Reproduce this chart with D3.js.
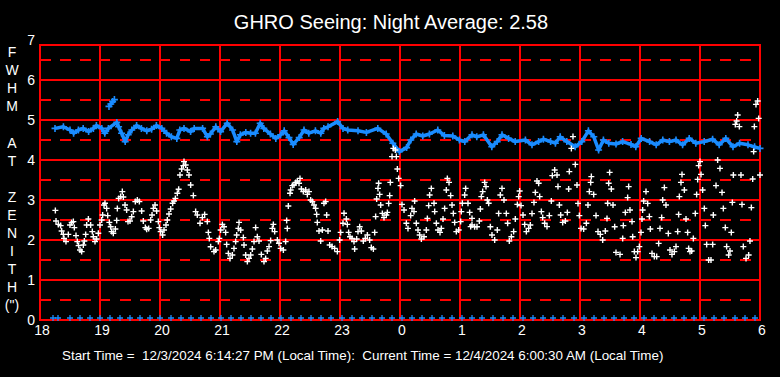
<html>
<head>
<script src="https://d3js.org/d3.v7.min.js"></script>
<style>
  body { margin: 0; background: black; }
  text { font-family: "Liberation Sans", Arial, sans-serif; fill: white; }
</style>
</head>
<body>
<svg id="seeing" width="780" height="377"></svg>
<script>
// hours after 18:00 local time
const hourLabels = ["18", "19", "20", "21", "22", "23", "0", "1", "2", "3", "4", "5", "6"];
const yLabels = ["0", "1", "2", "3", "4", "5", "6", "7"];
const halfLines = [0.5, 1.5, 2.5, 3.5, 4.5, 5.5, 6.5];
const axisLetters = ["F", "W", "H", "M", "", "A", "T", "", "Z", "E", "N", "I", "T", "H", "(\")"];
const title = "GHRO Seeing: Night Average: 2.58";
const footer = "Start Time =  12/3/2024 6:14:27 PM (Local Time):  Current Time = 12/4/2024 6:00:30 AM (Local Time)";

// blue series [hour, fwhm]
const blueSeeing = [
  [0.25,4.79],[0.39,4.83],[0.50,4.75],[0.56,4.67],[0.64,4.75],[0.72,4.79],[0.81,4.71],[0.89,4.79],
  [0.94,4.86],[1.03,4.79],[1.08,4.67],[1.14,4.79],[1.28,4.94],[1.31,4.83],[1.36,4.67],[1.42,4.46],
  [1.47,4.63],[1.53,4.75],[1.61,4.86],[1.69,4.79],[1.78,4.73],[1.86,4.77],[1.94,4.86],[2.03,4.79],
  [2.11,4.67],[2.19,4.58],[2.28,4.54],[2.33,4.75],[2.40,4.79],[2.51,4.71],[2.57,4.79],[2.71,4.79],
  [2.79,4.58],[2.84,4.65],[2.93,4.83],[3.01,4.71],[3.12,4.92],[3.21,4.75],[3.28,4.46],[3.34,4.63],
  [3.43,4.69],[3.51,4.67],[3.59,4.67],[3.67,4.92],[3.73,4.79],[3.84,4.65],[3.93,4.54],[4.01,4.63],
  [4.07,4.73],[4.15,4.56],[4.22,4.39],[4.32,4.56],[4.40,4.75],[4.48,4.67],[4.59,4.73],[4.68,4.67],
  [4.73,4.79],[4.80,4.83],[4.96,4.96],[5.05,4.79],[5.13,4.75],[5.30,4.73],[5.44,4.69],[5.63,4.79],
  [5.77,4.65],[5.88,4.42],[5.99,4.21],[6.11,4.31],[6.18,4.50],[6.27,4.65],[6.38,4.60],[6.49,4.65],
  [6.63,4.75],[6.74,4.61],[6.88,4.60],[6.99,4.50],[7.08,4.46],[7.20,4.63],[7.28,4.58],[7.39,4.63],
  [7.53,4.33],[7.62,4.46],[7.70,4.63],[7.81,4.54],[7.92,4.46],[8.09,4.50],[8.20,4.38],[8.31,4.46],
  [8.39,4.52],[8.51,4.46],[8.59,4.42],[8.67,4.58],[8.78,4.46],[8.92,4.33],[9.03,4.46],[9.14,4.73],
  [9.23,4.58],[9.31,4.25],[9.39,4.50],[9.48,4.42],[9.60,4.40],[9.71,4.46],[9.85,4.39],[9.93,4.33],
  [10.02,4.54],[10.16,4.46],[10.27,4.38],[10.38,4.50],[10.49,4.46],[10.60,4.50],[10.71,4.38],[10.82,4.54],
  [10.93,4.42],[11.07,4.46],[11.21,4.52],[11.32,4.38],[11.43,4.54],[11.55,4.33],[11.66,4.42],[11.80,4.38],
  [11.91,4.33],[12.00,4.29]
];
const blueSpike = [[1.15,5.34],[1.18,5.40],[1.21,5.46],[1.24,5.51]];

// white series [hour, fwhm]
const whiteSeeing = [
  [0.256,2.74],[0.267,2.475],[0.306,2.39],[0.344,2.36],[0.361,2.225],[0.389,2.14],[0.40,2.04],[0.433,1.96],
  [0.472,2.14],[0.50,2.375],[0.528,2.44],[0.556,2.46],[0.572,2.31],[0.60,2.11],[0.622,1.96],[0.644,1.86],
  [0.667,1.75],[0.694,1.71],[0.722,1.875],[0.739,1.975],[0.761,2.14],[0.778,2.375],[0.806,2.525],[0.844,2.375],
  [0.872,2.21],[0.889,2.08],[0.917,1.96],[0.944,2.025],[0.972,2.17],[1.0,2.375],[1.028,2.5],[1.044,2.625],
  [1.067,2.875],[1.083,2.92],[1.111,2.79],[1.128,2.61],[1.156,2.44],[1.178,2.33],[1.194,2.21],[1.222,2.17],
  [1.256,2.275],[1.278,2.49],[1.289,2.79],[1.311,3.04],[1.344,3.085],[1.372,3.21],[1.389,3.075],[1.417,2.875],
  [1.444,2.75],[1.467,2.46],[1.5,2.475],[1.528,2.58],[1.556,2.71],[1.589,2.96],[1.622,3.0],[1.656,2.96],
  [1.694,2.725],[1.722,2.475],[1.756,2.31],[1.778,2.27],[1.811,2.29],[1.844,2.5],[1.867,2.625],[1.889,2.79],
  [1.917,2.875],[1.944,2.725],[1.972,2.46],[1.989,2.31],[2.011,2.21],[2.044,2.125],[2.067,2.25],[2.1,2.375],
  [2.122,2.5],[2.15,2.65],[2.178,2.775],[2.211,2.92],[2.233,2.975],[2.256,3.04],[2.289,3.17],[2.311,3.27],
  [2.333,3.625],[2.361,3.775],[2.389,3.86],
  [2.4,3.96],[2.428,3.875],[2.456,3.75],[2.483,3.625],[2.511,3.375],[2.556,3.11],[2.594,2.71],[2.622,2.625],
  [2.667,2.42],[2.706,2.56],[2.744,2.64],[2.789,2.46],[2.806,2.19],[2.822,2.04],[2.844,1.83],[2.9,1.71],
  [2.928,1.75],[2.972,1.96],[2.989,2.04],[3.011,2.25],[3.039,2.39],[3.067,2.33],[3.094,2.19],[3.111,1.89],
  [3.139,1.665],[3.167,1.54],[3.206,1.625],[3.233,1.79],[3.261,1.96],[3.278,2.125],[3.306,2.29],[3.317,2.44],
  [3.344,2.25],[3.389,2.06],[3.4,1.875],[3.428,1.625],[3.456,1.46],[3.483,1.54],[3.511,1.625],[3.539,1.775],
  [3.567,1.96],[3.594,2.31],[3.622,2.08],[3.65,1.975],[3.689,1.64],[3.733,1.46],[3.761,1.54],[3.789,1.725],
  [3.817,1.835],[3.844,1.985],[3.872,2.29],[3.889,2.39],[3.911,2.21],[3.956,2.0],[3.983,1.92],[4.011,1.79],
  [4.056,1.75],[4.094,1.96],[4.122,2.29],[4.111,2.49],[4.139,2.85],[4.167,3.17],[4.178,3.25],[4.206,3.36],
  [4.233,3.375],[4.261,3.44],[4.289,3.475],[4.317,3.42],[4.333,3.54],[4.356,3.275],[4.389,3.21],[4.428,3.25],
  [4.456,3.14],[4.483,3.21],[4.511,3.0],[4.539,2.96],[4.567,2.875],[4.594,2.79],[4.611,2.64],[4.622,2.44],
  [4.65,2.225],[4.678,1.975],[4.706,2.25],[4.733,2.92],[4.761,2.96],[4.778,2.625],[4.8,2.225],
  [4.828,1.875],[4.867,1.835],[4.911,1.79],[4.956,1.71],[4.994,2.0],[5.011,2.19],[5.05,2.42],[5.067,2.67],
  [5.106,2.525],[5.122,2.39],[5.144,2.19],[5.167,2.08],[5.2,2.04],[5.233,1.96],[5.244,1.775],[5.278,2.025],
  [5.3,2.21],[5.328,2.33],[5.356,2.225],[5.389,1.975],[5.422,2.04],[5.456,2.125],[5.494,2.0],[5.522,1.81],
  [5.556,1.775],[5.578,2.19],[5.594,2.585],[5.611,3.025],[5.633,3.29],[5.644,3.42],[5.661,3.14],[5.678,2.875],
  [5.706,2.665],[5.733,2.56],[5.772,2.625],[5.789,2.69],[5.811,2.915],[5.828,3.11],[5.839,3.44],[5.867,4.085],
  [5.889,4.29],[5.922,4.25],[5.939,4.085],[5.956,3.775],[5.978,3.54],[6.011,3.36],[6.033,2.89],[6.067,2.75],
  [6.106,2.42],[6.133,2.29],[6.178,2.61],[6.2,2.79],[6.233,2.71],[6.244,2.975],[6.272,2.42],[6.3,2.25],
  [6.328,2.125],[6.356,2.025],[6.4,2.08],[6.439,2.25],[6.456,2.54],[6.478,2.86],[6.494,3.125],[6.522,3.29],
  [6.567,2.92],[6.578,2.71],[6.606,2.42],[6.633,2.25],[6.667,2.19],[6.689,2.29],[6.717,2.525],[6.744,2.79],
  [6.772,3.25],[6.789,3.54],[6.817,3.44],[6.844,3.11],[6.867,2.875],[6.889,2.665],[6.911,2.44],[6.939,2.21],
  [6.978,2.25],[7.011,2.46],[7.022,2.71],[7.039,2.92],[7.078,3.125],[7.094,3.29],[7.133,2.92],[7.161,2.69],
  [7.178,2.335],[7.2,2.54],
  [7.2,2.375],[7.244,2.33],[7.283,2.33],[7.322,2.475],[7.339,2.775],[7.356,3.085],[7.378,3.21],[7.411,3.44],
  [7.433,3.335],[7.456,3.0],[7.478,2.92],[7.506,2.33],[7.533,2.125],[7.578,2.0],[7.622,2.25],[7.644,2.665],
  [7.672,3.125],[7.7,3.29],[7.733,3.0],[7.772,2.665],[7.794,2.42],[7.822,1.975],[7.856,2.08],[7.894,2.21],
  [7.922,2.525],[7.956,2.89],[7.978,3.085],[7.994,3.225],[8.017,2.86],[8.05,2.625],[8.078,2.39],[8.106,2.21],
  [8.144,2.29],[8.172,2.375],[8.2,2.66],[8.233,2.94],[8.256,3.19],[8.283,3.475],[8.311,3.42],[8.328,3.085],
  [8.356,2.71],[8.378,2.56],[8.411,2.42],[8.45,2.335],[8.489,2.61],[8.522,2.975],[8.539,3.61],[8.578,3.75],
  [8.617,3.625],[8.633,3.335],[8.656,2.875],[8.678,2.625],[8.711,2.44],[8.756,2.475],[8.789,2.69],[8.811,3.275],
  [8.822,3.71],[8.856,4.29],[8.883,4.585],[8.922,3.89],[8.95,3.375],[8.967,2.915],[8.989,2.61],[9.017,2.29],
  [9.061,2.275],[9.106,2.42],[9.133,2.875],[9.156,3.21],[9.178,3.44],[9.189,3.585],[9.228,3.14],[9.267,2.61],
  [9.3,2.21],[9.339,2.14],[9.378,2.0],[9.422,2.225],[9.45,2.54],[9.461,2.92],[9.478,3.42],[9.494,3.69],
  [9.522,3.275],[9.55,2.875],[9.578,2.33],
  [9.6,1.69],[9.667,1.64],[9.711,2.04],[9.722,2.36],[9.756,2.69],[9.794,3.06],[9.811,3.335],[9.833,2.75],
  [9.867,2.46],[9.878,2.08],[9.906,1.71],[9.933,1.56],[9.961,1.71],[9.989,1.835],[10.017,2.19],[10.033,2.525],
  [10.044,2.75],[10.061,2.975],[10.1,3.21],[10.128,2.915],[10.156,2.585],[10.172,2.275],[10.2,1.665],[10.239,1.585],
  [10.278,1.585],[10.311,1.915],[10.333,2.29],[10.361,2.56],[10.378,3.0],[10.406,3.31],[10.433,2.875],[10.472,2.165],
  [10.5,1.75],[10.533,1.64],[10.572,1.71],[10.6,1.835],[10.628,2.21],[10.644,2.64],[10.656,3.085],[10.683,3.44],
  [10.7,3.64],[10.739,3.25],[10.767,2.525],[10.794,2.19],[10.811,1.79],[10.833,1.71],[10.861,1.725],[10.889,2.04],
  [10.922,2.665],[10.944,3.14],[10.961,3.515],[10.978,3.86],[11.0,3.96],[11.017,3.64],[11.044,3.25],[11.072,2.79],
  [11.089,2.36],[11.111,1.89],[11.144,1.5],[11.183,1.5],[11.211,1.89],[11.222,2.625],[11.267,3.36],[11.294,4.0],
  [11.333,3.79],[11.367,3.19],[11.389,2.79],[11.422,2.31],[11.444,1.835],[11.478,1.625],[11.5,1.725],[11.522,2.19],
  [11.539,2.94],[11.556,3.625],[11.589,4.89],[11.611,4.975],[11.628,5.125],[11.656,4.835],[11.683,3.625],[11.7,2.89],
  [11.722,1.835],[11.767,1.54],[11.811,1.625],[11.833,1.975],[11.856,2.81],[11.878,3.525],[11.894,4.21],[11.906,4.835],
  [11.933,5.39],[11.961,5.475],[11.978,5.04],[12.0,3.625]
];

// zero markers, minutes after 18:00
const zeroMinutes = [
  13, 18, 30, 40, 50, 60, 70, 80, 90, 100, 110, 120,
  131, 141, 151, 161, 171, 181, 191, 201, 211, 221, 231, 241, 251, 261, 271, 281, 291,
  302, 312, 322, 332, 342, 352, 362, 372, 382, 392, 402, 412, 422, 432, 442,
  453, 463, 473, 483, 493, 503, 513, 523,
  534, 544, 554, 564, 574, 584, 594, 604, 614, 624, 634, 644, 654, 664, 674, 684, 695, 705, 715
];
const zeroValue = 0.05;

const svg = d3.select("#seeing");
const x = d3.scaleLinear().domain([0, 12]).range([40, 760]);
const y = d3.scaleLinear().domain([0, 7]).range([320, 40]);
const plotTop = y(7) + 5;
const blue = "#1a8cff";
const red = "#ff0000";

svg.append("rect").attr("width", 780).attr("height", 377).attr("fill", "black");

// grid
const grid = svg.append("g").attr("stroke", red).attr("fill", "none")
  .attr("shape-rendering", "crispEdges");
grid.selectAll(".half").data(halfLines).join("line")
  .attr("x1", x(0)).attr("x2", x(12))
  .attr("y1", d => y(d)).attr("y2", d => y(d))
  .attr("stroke-width", 1.5).attr("stroke-dasharray", "10.5,9.5");
grid.selectAll(".full").data(d3.range(1, 7)).join("line")
  .attr("x1", x(0)).attr("x2", x(12))
  .attr("y1", d => y(d)).attr("y2", d => y(d))
  .attr("stroke-width", 1.5);
grid.selectAll(".vert").data(d3.range(1, 12)).join("line")
  .attr("x1", d => x(d)).attr("x2", d => x(d))
  .attr("y1", plotTop).attr("y2", y(0))
  .attr("stroke-width", 1.5);
grid.append("rect")
  .attr("x", x(0)).attr("y", plotTop)
  .attr("width", x(12) - x(0)).attr("height", y(0) - plotTop)
  .attr("stroke-width", 1.5);

const plus = r => `M${-r},0H${r}M0,${-r}V${r}`;

// blue series
const line = d3.line().x(d => x(d[0])).y(d => y(d[1]));
svg.append("path").datum(blueSeeing)
  .attr("d", line)
  .attr("fill", "none").attr("stroke", blue).attr("stroke-width", 3.5)
  .attr("stroke-linejoin", "round");
svg.append("g").selectAll("path").data(blueSeeing.concat(blueSpike)).join("path")
  .attr("transform", d => `translate(${x(d[0])},${y(d[1])})`)
  .attr("d", plus(3.5))
  .attr("stroke", blue).attr("stroke-width", 1.6);
svg.append("path").datum(blueSpike)
  .attr("d", line)
  .attr("fill", "none").attr("stroke", blue).attr("stroke-width", 3);

// zero markers
svg.append("g").selectAll("path").data(zeroMinutes).join("path")
  .attr("transform", d => `translate(${x(d / 60)},${y(zeroValue)})`)
  .attr("d", plus(3))
  .attr("stroke", blue).attr("stroke-width", 1.3);

// white series
svg.append("g").selectAll("path").data(whiteSeeing).join("path")
  .attr("transform", d => `translate(${x(d[0])},${y(d[1])})`)
  .attr("d", plus(3))
  .attr("stroke", "white").attr("stroke-width", 1.4);

// axis labels
svg.append("g").selectAll("text").data(yLabels).join("text")
  .attr("x", 35).attr("y", (d, i) => y(i) + 5)
  .attr("text-anchor", "end").attr("font-size", 14)
  .text(d => d);
svg.append("g").selectAll("text").data(hourLabels).join("text")
  .attr("x", (d, i) => x(i) + 2).attr("y", 335)
  .attr("text-anchor", "middle").attr("font-size", 14)
  .text(d => d);
svg.append("g").selectAll("text").data(axisLetters).join("text")
  .attr("x", 12).attr("y", (d, i) => 57 + i * 18.1)
  .attr("text-anchor", "middle").attr("font-size", 14)
  .text(d => d);

svg.append("text").attr("x", 391).attr("y", 29)
  .attr("text-anchor", "middle").attr("font-size", 20)
  .text(title);
svg.append("text").attr("x", 62).attr("y", 360)
  .attr("font-size", 13.4).style("white-space", "pre")
  .text(footer);
</script>
</body>
</html>
